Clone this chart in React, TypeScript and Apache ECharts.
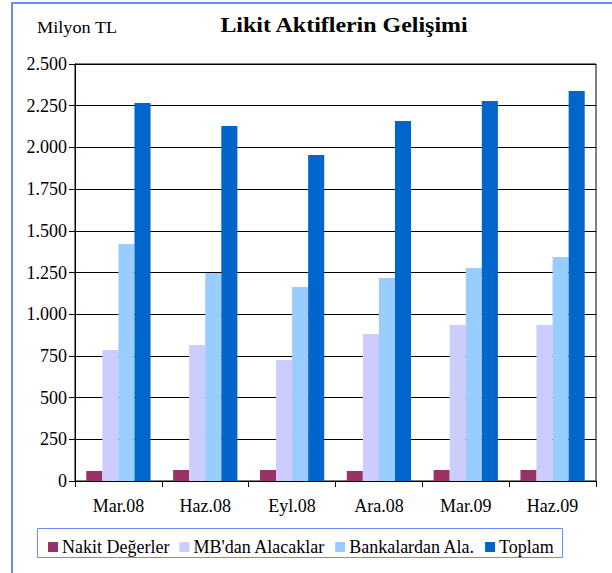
import React, { useEffect, useRef } from "react";
import * as echarts from "echarts";

const categories = ["Mar.08", "Haz.08", "Eyl.08", "Ara.08", "Mar.09", "Haz.09"];
const nakit = [60, 66, 66, 60, 66, 66];
const mbdan = [785, 815, 725, 881, 935, 935];
const bankalardan = [1421, 1247, 1163, 1217, 1277, 1343];
const toplam = [2266, 2128, 1954, 2158, 2278, 2338];
const seriesNames = ["Nakit Değerler", "MB'dan Alacaklar", "Bankalardan Ala.", "Toplam"];
const colors = ["#993366", "#CCCCFF", "#99CCFF", "#0066CC"];
const titleText = "Likit Aktiflerin Gelişimi";
const unitText = "Milyon TL";

const FONT = "'Liberation Serif', 'Times New Roman', serif";

export default function App() {
  const ref = useRef<HTMLDivElement>(null);
  useEffect(() => {
    if (!ref.current) return;
    const chart = echarts.init(ref.current, null, { renderer: "svg" });
    const data = [nakit, mbdan, bankalardan, toplam];
    chart.setOption({
      animation: false,
      backgroundColor: "#ffffff",
      textStyle: { fontFamily: FONT, color: "#000" },
      graphic: [
        {
          type: "polyline",
          shape: { points: [[12, 573], [12, 3], [612, 3]] },
          style: { stroke: "#6B8CFF", lineWidth: 2, fill: "none" },
        },
        {
          type: "rect",
          shape: { x: 37.5, y: 528.5, width: 525, height: 29 },
          style: { stroke: "#6B8CFF", lineWidth: 1, fill: "none" },
        },
        {
          type: "text",
          x: 37,
          y: 36,
          scaleX: 1.14,
          style: {
            text: unitText,
            font: `16px ${FONT}`,
            fill: "#000",
            textVerticalAlign: "bottom",
          },
        },
        {
          type: "text",
          x: 344,
          y: 35,
          scaleX: 1.14,
          style: {
            text: titleText,
            font: `bold 21px ${FONT}`,
            fill: "#000",
            textAlign: "center",
            textVerticalAlign: "bottom",
          },
        },
      ],
      legend: {
        data: seriesNames,
        left: 43,
        top: 533,
        itemWidth: 10,
        itemHeight: 10,
        itemGap: 10,
        icon: "rect",
        textStyle: { fontFamily: FONT, fontSize: 18, color: "#000", padding: [0, 0, 0, -1] },
      },
      grid: {
        left: 75,
        right: 16,
        top: 64,
        bottom: 92,
        show: true,
        borderColor: "#000",
        borderWidth: 1,
      },
      xAxis: {
        type: "category",
        data: categories,
        axisLine: { lineStyle: { color: "#000", width: 1 } },
        axisTick: { show: true, length: 6, lineStyle: { color: "#000" } },
        axisLabel: { fontFamily: FONT, fontSize: 18, color: "#000", margin: 16 },
      },
      yAxis: {
        type: "value",
        min: 0,
        max: 2500,
        interval: 250,
        axisLine: { show: true, lineStyle: { color: "#000" } },
        axisTick: { show: true, length: 6, lineStyle: { color: "#000" } },
        splitLine: { lineStyle: { color: "#000", width: 1 } },
        axisLabel: {
          fontFamily: FONT,
          fontSize: 18,
          color: "#000",
          margin: 8,
          formatter: (v: number) => v.toLocaleString("de-DE"),
        },
      },
      series: seriesNames.map((name, i) => ({
        name,
        type: "bar",
        data: data[i],
        barGap: "0%",
        barCategoryGap: "26%",
        itemStyle: { color: colors[i] },
      })),
    });
    return () => chart.dispose();
  }, []);
  return <div ref={ref} style={{ width: 612, height: 573, position: "absolute", left: 0, top: 0 }} />;
}
